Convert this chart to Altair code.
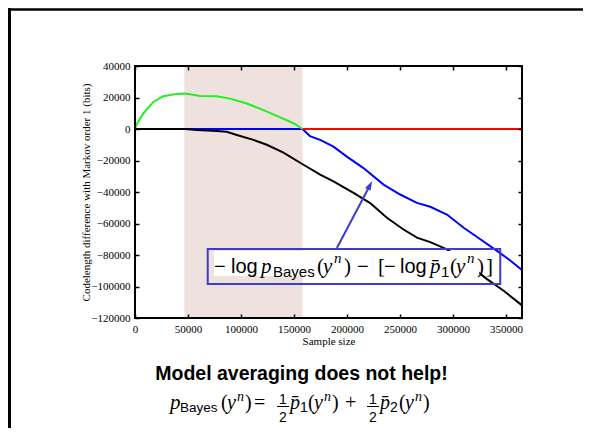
import altair as alt
import pandas as pd

# ---------------- data ----------------
x_ticks = [0, 50000, 100000, 150000, 200000, 250000, 300000, 350000]
y_ticks = [40000, 20000, 0, -20000, -40000, -60000, -80000, -100000, -120000]

shade_start = [46500]
shade_end = [158000]

green_x = [0, 2000, 7900, 17300, 26700, 39300, 46000, 52000, 61300, 77100,
           89700, 105400, 121200, 136900, 150000, 158000]
green_y = [0, 3500, 9900, 17200, 20800, 22300, 22500, 22000, 21000, 20800,
           19300, 16200, 12000, 7400, 3500, 0]

blue_x = [0, 47000, 158000, 165000, 174600, 187200, 199800, 215500, 234400,
          250100, 265900, 278500, 294200, 310000, 325700, 341400, 353000, 365000]
blue_y = [0, 0, 0, -4500, -6900, -11200, -17500, -24800, -35300,
          -41600, -46900, -49400, -54300, -62700, -70000, -77400, -83000, -89500]

red_x = [158000, 365000]
red_y = [0, 0]

black_x = [0, 47000, 58200, 77100, 86500, 96000, 111700, 124300, 140000,
           158900, 174600, 187200, 206100, 221800, 237600, 253300, 265900,
           278500, 294200, 316200, 332000, 347700, 365000]
black_y = [0, 0, -600, -1300, -1800, -3800, -6900, -10000, -15000,
           -22700, -29000, -33200, -40600, -47000, -56400, -63800, -69000,
           -71800, -76400, -86900, -95300, -102700, -112000]

# annotation geometry in data units
box_x = [68600]
box_x2 = [344500]
box_y = [-76200]
box_y2 = [-98400]
bg_x = [74600]
bg_x2 = [324700]
bg_y = [-77500]
bg_y2 = [-93300]
arrow_x = [190400]
arrow_y = [-75560]
arrow_x2 = [221650]
arrow_y2 = [-35680]

title_text = "Model averaging does not help!"
x_title = "Sample size"
y_title = "Codelength difference with Markov order 1 (bits)"

# ---------------- layout ----------------
W, H = 387, 252
OX, OY = 135, 66  # page position of plot origin
CW, CH = 575, 420  # canvas size (fits the 591x442 window with 8px margins)
SANS = "Liberation Sans"
SERIF = "Liberation Serif"
BLUE_ANN = "#3c3cd0"

xs = alt.Scale(domain=[0, 365000], nice=False, zero=False)
ys = alt.Scale(domain=[-120000, 40000], nice=False, zero=False)


def ax(orient, values, labels=True, **kw):
    opts = dict(orient=orient, offset=-4, values=values, tickSize=4,
                tickColor="black", tickWidth=1.5, domain=False, grid=False,
                zindex=2)
    if labels:
        opts.update(labelFont=SERIF, labelFontSize=11, labelColor="black",
                    labelPadding=5, format="d", labelFlush=False,
                    labelOverlap=False, labelBound=False,
                    titleFont=SERIF, titleFontSize=11, titleFontWeight="normal",
                    titleColor="black")
    else:
        opts.update(labels=False, title=None)
    opts.update(kw)
    return alt.Axis(**opts)


def line_layer(xv, yv, color, xaxis=None, yaxis=None):
    df = pd.DataFrame({"x": xv, "y": yv})
    return alt.Chart(df).mark_line(color=color, strokeWidth=2, clip=True).encode(
        x=alt.X("x:Q", scale=xs, axis=xaxis),
        y=alt.Y("y:Q", scale=ys, axis=yaxis),
    )


shade = alt.Chart(pd.DataFrame({"a": shade_start, "b": shade_end})).mark_rect(
    color="#efe2de").encode(
    x=alt.X("a:Q", scale=xs, axis=None), x2="b:Q",
    y=alt.value(0), y2=alt.value(H))

blue = line_layer(blue_x, blue_y, "#0000ff",
                  xaxis=ax("bottom", x_ticks, title=x_title, titleY=21,
                           titleBaseline="top"),
                  yaxis=ax("left", y_ticks, title=y_title, titleX=-53,
                           titleY=H / 2, titleBaseline="middle"))
red = line_layer(red_x, red_y, "#ff0000",
                 xaxis=ax("top", x_ticks, labels=False),
                 yaxis=ax("right", y_ticks, labels=False))
green = line_layer(green_x, green_y, "#22ee22")
black = line_layer(black_x, black_y, "#000000")

bg = alt.Chart(pd.DataFrame({"a": bg_x, "b": bg_x2, "c": bg_y, "d": bg_y2})).mark_rect(
    color="white").encode(
    x=alt.X("a:Q", scale=xs, axis=None), x2="b:Q",
    y=alt.Y("c:Q", scale=ys, axis=None), y2="d:Q")

box = alt.Chart(pd.DataFrame({"a": box_x, "b": box_x2, "c": box_y, "d": box_y2})).mark_rect(
    fillOpacity=0, stroke=BLUE_ANN, strokeWidth=2).encode(
    x=alt.X("a:Q", scale=xs, axis=None), x2="b:Q",
    y=alt.Y("c:Q", scale=ys, axis=None), y2="d:Q")

arrow_df = pd.DataFrame({"a": arrow_x, "b": arrow_x2, "c": arrow_y, "d": arrow_y2})
arrow_line = alt.Chart(arrow_df).mark_rule(color=BLUE_ANN, strokeWidth=2).encode(
    x=alt.X("a:Q", scale=xs, axis=None), x2="b:Q",
    y=alt.Y("c:Q", scale=ys, axis=None), y2="d:Q")
arrow_head = alt.Chart(arrow_df).mark_point(
    shape="M0,-1L0.65,1L-0.65,1Z", filled=True, color=BLUE_ANN, size=90,
    angle=28, opacity=1).encode(
    x=alt.X("b:Q", scale=xs, axis=None),
    y=alt.Y("d:Q", scale=ys, axis=None))

frame = alt.Chart(pd.DataFrame({"k": [0]})).mark_rect(
    fillOpacity=0, stroke="black", strokeWidth=2).encode(
    x=alt.value(0), x2=alt.value(W), y=alt.value(0), y2=alt.value(H))

slide_left = alt.Chart(pd.DataFrame({"k": [0]})).mark_rule(
    color="black", strokeWidth=3).encode(
    x=alt.value(9.5 - OX), y=alt.value(8 - OY), y2=alt.value(8 + CH - OY))
slide_top = alt.Chart(pd.DataFrame({"k": [0]})).mark_rule(
    color="black", strokeWidth=2.5).encode(
    x=alt.value(8 - OX), x2=alt.value(8 + CW - OX), y=alt.value(9.5 - OY))

# typeset pieces: (text, page_x, page_y_baseline, font, size, style, align)
ab, asub, asup = 272.7, 276.5, 263
fb, fsub, fsup = 408.5, 411.5, 400.5
pieces = [
    ("\u2212", 214, ab, SANS, 20, "normal", "left"),
    ("log", 231, ab, SANS, 20, "normal", "left"),
    ("p", 261, ab, SERIF, 21, "italic", "left"),
    ("Bayes", 273, asub, SANS, 15, "normal", "left"),
    ("(", 317, ab, SERIF, 21, "normal", "left"),
    ("y", 323, ab, SERIF, 21, "italic", "left"),
    ("n", 334, asup, SERIF, 15, "italic", "left"),
    (")", 344, ab, SERIF, 21, "normal", "left"),
    ("\u2212", 357, ab, SANS, 20, "normal", "left"),
    ("[", 378, ab, SERIF, 21, "normal", "left"),
    ("\u2212", 384, ab, SANS, 20, "normal", "left"),
    ("log", 400, ab, SANS, 20, "normal", "left"),
    ("p\u0304", 430, ab, SERIF, 21, "italic", "left"),
    ("1", 441, asub, SANS, 15, "normal", "left"),
    ("(", 450, ab, SERIF, 21, "normal", "left"),
    ("y", 456, ab, SERIF, 21, "italic", "left"),
    ("n", 467, asup, SERIF, 15, "italic", "left"),
    (")", 477, ab, SERIF, 21, "normal", "left"),
    ("]", 486, ab, SERIF, 21, "normal", "left"),
    # formula
    ("p", 170, fb, SERIF, 21, "italic", "left"),
    ("Bayes", 180, fsub, SANS, 13.5, "normal", "left"),
    ("(", 221, fb, SERIF, 20, "normal", "left"),
    ("y", 227, fb, SERIF, 20, "italic", "left"),
    ("n", 237, fsup, SERIF, 14, "italic", "left"),
    (")", 245, fb, SERIF, 20, "normal", "left"),
    ("=", 254, fb, SERIF, 20, "normal", "left"),
    ("1", 283, 403.5, SANS, 14, "normal", "center"),
    ("2", 283, 422, SANS, 14, "normal", "center"),
    ("p\u0304", 290, fb, SERIF, 20, "italic", "left"),
    ("1", 300, fsub, SANS, 14, "normal", "left"),
    ("(", 308, fb, SERIF, 20, "normal", "left"),
    ("y", 314, fb, SERIF, 20, "italic", "left"),
    ("n", 324, fsup, SERIF, 14, "italic", "left"),
    (")", 332, fb, SERIF, 20, "normal", "left"),
    ("+", 345, fb, SERIF, 20, "normal", "left"),
    ("1", 373, 403.5, SANS, 14, "normal", "center"),
    ("2", 373, 422, SANS, 14, "normal", "center"),
    ("p\u0304", 380, fb, SERIF, 20, "italic", "left"),
    ("2", 390, fsub, SANS, 14, "normal", "left"),
    ("(", 399, fb, SERIF, 20, "normal", "left"),
    ("y", 405, fb, SERIF, 20, "italic", "left"),
    ("n", 415, fsup, SERIF, 14, "italic", "left"),
    (")", 423, fb, SERIF, 20, "normal", "left"),
]
frac_bars = [(277, 289, 406.5), (367, 379, 406.5)]

one = pd.DataFrame({"k": [0]})
text_layers = []
for t, px, py, font, size, style, align in pieces:
    text_layers.append(
        alt.Chart(one).mark_text(text=t, font=font, fontSize=size, fontStyle=style,
                                 align=align, baseline="alphabetic", color="black")
        .encode(x=alt.value(px - OX), y=alt.value(py - OY)))
for x1, x2, yy in frac_bars:
    text_layers.append(
        alt.Chart(one).mark_rule(color="black", strokeWidth=1).encode(
            x=alt.value(x1 - OX), x2=alt.value(x2 - OX), y=alt.value(yy - OY)))

title = alt.Chart(one).mark_text(
    text=title_text, font=SANS, fontSize=19.5, fontWeight="bold",
    align="center", baseline="alphabetic", color="black").encode(
    x=alt.value(301.5 - OX), y=alt.value(380 - OY))

chart = alt.layer(
    shade, blue, red, green, black, bg, box, arrow_line, arrow_head, frame,
    slide_left, slide_top, title, *text_layers
).resolve_axis(x="independent", y="independent").properties(
    width=W, height=H,
    autosize=alt.AutoSizeParams(type="none"),
    padding={"left": OX - 8, "top": OY - 8, "right": CW - (OX - 8) - W,
             "bottom": CH - (OY - 8) - H},
    background="white",
).configure_view(strokeWidth=0)

chart.save("out.html", embed_options={"renderer": "svg", "actions": False})
